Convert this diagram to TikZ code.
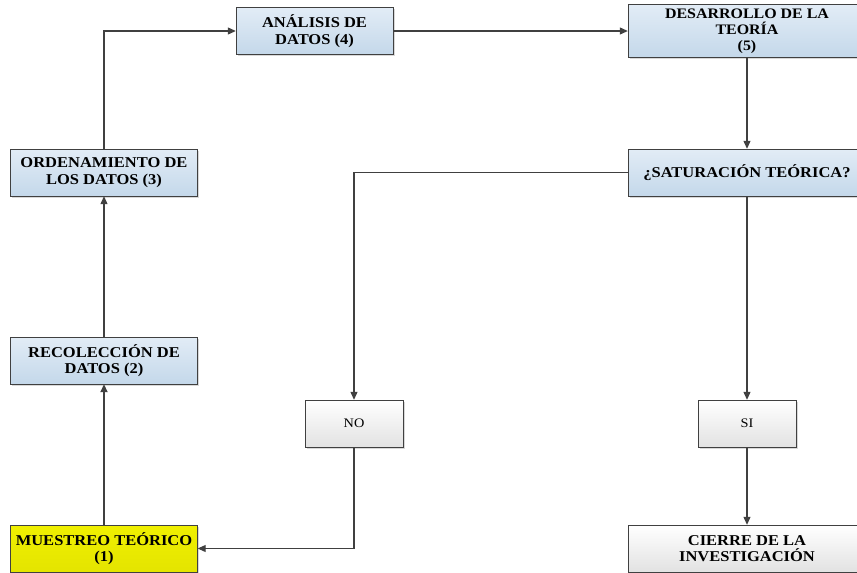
\documentclass[tikz,border=0pt]{standalone}
\usepackage{fontspec}
\setmainfont{Liberation Serif}[FakeStretch=1.1]
\usepackage{xcolor}
\definecolor{trazo}{RGB}{64,64,64}
\definecolor{azulA}{RGB}{226,236,246}
\definecolor{azulB}{RGB}{196,216,234}
\definecolor{amar}{RGB}{240,240,0}
\definecolor{grisB}{RGB}{226,226,226}
\usepackage{tikz}
\usetikzlibrary{arrows.meta,shadows,positioning}
\tikzset{
  paso/.style={rectangle, draw=trazo, thin, top color=azulA, bottom color=azulB,
    align=center, font=\fontsize{15}{16.6}\selectfont\bfseries, inner sep=2pt,
    drop shadow={shadow xshift=1.5pt, shadow yshift=-1.5pt, opacity=0.3}},
  pasoy/.style={paso, top color=amar, bottom color=amar!95!black},
  pasob/.style={paso, top color=white, bottom color=grisB},
  resp/.style={pasob, font=\fontsize{13}{15}\selectfont},
  line/.style={draw=trazo, line width=1.1pt, -{Triangle[length=8pt,width=7pt]}},
}
\begin{document}
\begin{tikzpicture}[x=1pt, y=-1pt]
  \useasboundingbox (0,0) rectangle (857,573);
  \clip (0,0) rectangle (857,573);
  \fill[white] (0,0) rectangle (857,573);

  \node[pasoy, minimum width=187pt, minimum height=47pt] (m1) at (104,548.5) {MUESTREO TEÓRICO\\(1)};
  \node[paso, minimum width=187pt, minimum height=47pt] (r2) at (104,360.5) {RECOLECCIÓN DE\\DATOS (2)};
  \node[paso, minimum width=187pt, minimum height=47pt] (o3) at (104,172.5) {ORDENAMIENTO DE\\LOS DATOS (3)};
  \node[paso, minimum width=157pt, minimum height=47pt] (a4) at (314.5,31) {ANÁLISIS DE\\DATOS (4)};
  \node[paso, minimum width=238pt, minimum height=53pt, font=\fontsize{14.5}{16}\selectfont\bfseries] (d5) at (747,31) {DESARROLLO DE LA\\TEORÍA\\(5)};
  \node[paso, minimum width=238pt, minimum height=47pt] (sat) at (747,172.5) {¿SATURACIÓN TEÓRICA?};
  \node[resp, minimum width=98pt, minimum height=47pt] (no) at (354,423.5) {NO};
  \node[resp, minimum width=98pt, minimum height=47pt] (si) at (747,423.5) {SI};
  \node[pasob, minimum width=238pt, minimum height=47pt] (fin) at (747,548.5) {CIERRE DE LA\\INVESTIGACIÓN};

  \draw[line, line width=1.8pt] (m1) -- (r2);
  \draw[line] (r2) -- (o3);
  \draw[line] (o3) |- (a4);
  \draw[line] (a4) -- (d5);
  \draw[line] (d5) -- (sat);
  \draw[line] (sat) -| (no);
  \draw[line] (sat) -- (si);
  \draw[line] (si) -- (fin);
  \draw[line] (no) |- (m1);
\end{tikzpicture}
\end{document}
